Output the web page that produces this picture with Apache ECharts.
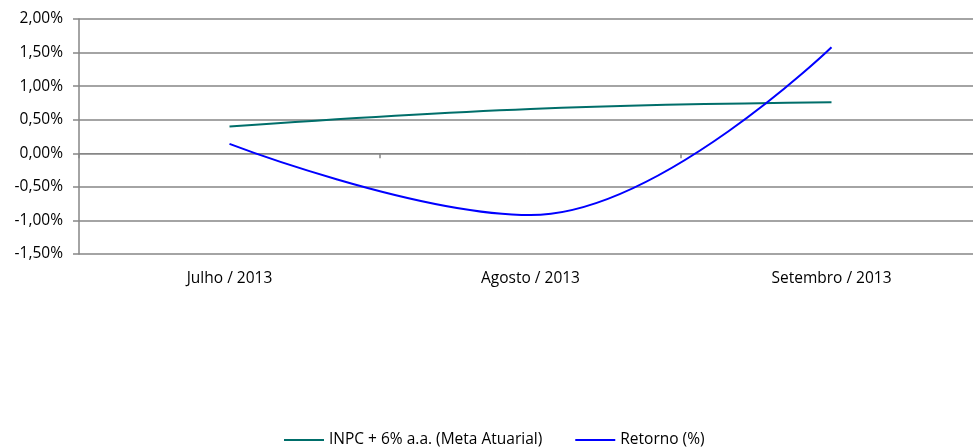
<!DOCTYPE html>
<html>
<head>
<meta charset="utf-8">
<script src="https://cdn.jsdelivr.net/npm/echarts@6/dist/echarts.min.js"></script>
<style>
html,body{margin:0;padding:0;background:#fff;}
#c{width:973px;height:447px;}
</style>
</head>
<body>
<div id="c"></div>
<script>
var categories = ['Julho / 2013', 'Agosto / 2013', 'Setembro / 2013'];
var inpcMeta = [0.40, 0.66, 0.76];
var retorno = [0.14, -0.92, 1.58];
var seriesNames = ['INPC + 6% a.a. (Meta Atuarial)', 'Retorno (%)'];

var font = 'Open Sans';
var fs = 15.5;
var chart = echarts.init(document.getElementById('c'));
chart.setOption({
  animation: false,
  grid: { left: 79, width: 903, top: 19, height: 235, containLabel: false, outerBoundsMode: 'none' },
  legend: {
    top: 427,
    left: 279,
    itemWidth: 40,
    itemHeight: 2,
    itemGap: 33,
    icon: 'rect',
    textStyle: { fontFamily: font, fontSize: fs, color: '#000' },
    data: seriesNames
  },
  xAxis: [{
    type: 'category',
    data: categories,
    boundaryGap: true,
    position: 'bottom',
    axisLine: { show: false, onZero: false },
    axisTick: { show: false },
    axisLabel: { margin: 17, interval: 0, fontFamily: font, fontSize: fs, color: '#000' }
  }, {
    type: 'category',
    data: categories,
    boundaryGap: true,
    gridIndex: 0,
    position: 'bottom',
    axisLine: { show: true, onZero: true, lineStyle: { color: '#868686', width: 1 } },
    axisTick: { show: true, interval: 0, length: 5, inside: false, lineStyle: { color: '#868686', width: 1.5 } },
    axisLabel: { show: false, interval: 0 }
  }],
  yAxis: {
    type: 'value',
    min: -1.5,
    max: 2,
    interval: 0.5,
    axisLine: { show: true, lineStyle: { color: '#868686', width: 1.5 } },
    axisTick: { show: true, length: 6, lineStyle: { color: '#868686', width: 1.5 } },
    splitLine: { show: true, lineStyle: { color: '#868686', width: 1.5 } },
    axisLabel: {
      margin: 16,
      fontFamily: font, fontSize: fs, color: '#000',
      formatter: function (v) { return v.toFixed(2).replace('.', ',') + '%'; }
    }
  },
  series: [{
    name: seriesNames[0],
    type: 'line',
    data: inpcMeta,
    smooth: 0.4,
    symbol: 'none',
    lineStyle: { color: '#006E6A', width: 2 },
    itemStyle: { color: '#006E6A' }
  }, {
    name: seriesNames[1],
    type: 'line',
    data: retorno,
    smooth: 0.4,
    symbol: 'none',
    lineStyle: { color: '#0000FF', width: 2 },
    itemStyle: { color: '#0000FF' }
  }]
});
</script>
</body>
</html>
